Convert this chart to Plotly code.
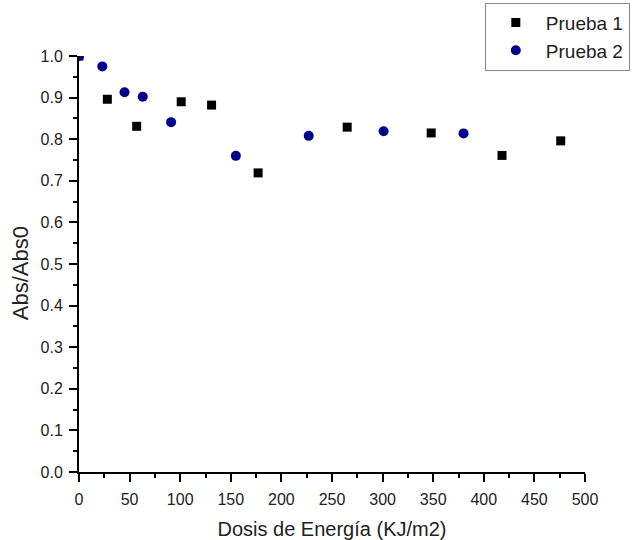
import plotly.graph_objects as go

# Prueba 1 (squares) and Prueba 2 (circles): normalized absorbance vs. energy dose
dosis_p1 = [0, 28, 57, 101, 131, 177, 265, 348, 418, 476]
abs_p1 = [1.0, 0.896, 0.831, 0.890, 0.882, 0.719, 0.829, 0.815, 0.761, 0.796]

dosis_p2 = [0, 23, 45, 63, 91, 155, 227, 301, 380]
abs_p2 = [1.0, 0.975, 0.913, 0.902, 0.841, 0.760, 0.808, 0.819, 0.814]

x_ticks = [0, 50, 100, 150, 200, 250, 300, 350, 400, 450, 500]
y_ticks = [0.0, 0.1, 0.2, 0.3, 0.4, 0.5, 0.6, 0.7, 0.8, 0.9, 1.0]

font_family = "Liberation Sans, Arial, sans-serif"
text_color = "#222222"

fig = go.Figure()
fig.add_trace(go.Scatter(
    x=dosis_p1, y=abs_p1, mode="markers", name="Prueba 1",
    marker=dict(symbol="square", size=9, color="black"),
))
fig.add_trace(go.Scatter(
    x=dosis_p2, y=abs_p2, mode="markers", name="Prueba 2",
    marker=dict(symbol="circle", size=10, color="#00008B"),
))

axis_common = dict(
    showgrid=False, zeroline=False, showline=True, linecolor="black",
    linewidth=2, ticks="outside", ticklen=8, tickwidth=2, tickcolor="black",
    tickfont=dict(family=font_family, size=16, color=text_color),
    minor=dict(ticks="outside", ticklen=4, tickwidth=2, tickcolor="black"),
    mirror=False,
)

fig.update_xaxes(
    range=[0, 500], tickvals=x_ticks, ticktext=[str(v) for v in x_ticks],
    minor_dtick=25, ticklabelstandoff=4,
    title=dict(text="Dosis de Energía (KJ/m2)", standoff=15,
               font=dict(family=font_family, size=20, color=text_color)),
    **axis_common,
)
fig.update_yaxes(
    range=[0, 1.0], tickvals=y_ticks, ticktext=[f"{v:.1f}" for v in y_ticks],
    minor_dtick=0.05, ticklabelstandoff=3,
    **axis_common,
)

# y-axis title placed as a rotated annotation left of the tick labels
fig.add_annotation(
    text="Abs/Abs0", xref="paper", yref="paper",
    x=-59 / 506, y=0.478, xanchor="center", yanchor="middle",
    textangle=-90, showarrow=False,
    font=dict(family=font_family, size=22, color=text_color),
)

fig.update_layout(
    width=638, height=540,
    margin=dict(l=79, r=53, t=56, b=68, autoexpand=False),
    plot_bgcolor="white", paper_bgcolor="white",
    showlegend=True,
    legend=dict(
        x=0.802, y=1.128, xanchor="left", yanchor="top",
        bordercolor="#888888", borderwidth=1, bgcolor="white",
        font=dict(family=font_family, size=19, color=text_color),
        itemwidth=50, tracegroupgap=0,
    ),
)

fig.write_html("out.html")
